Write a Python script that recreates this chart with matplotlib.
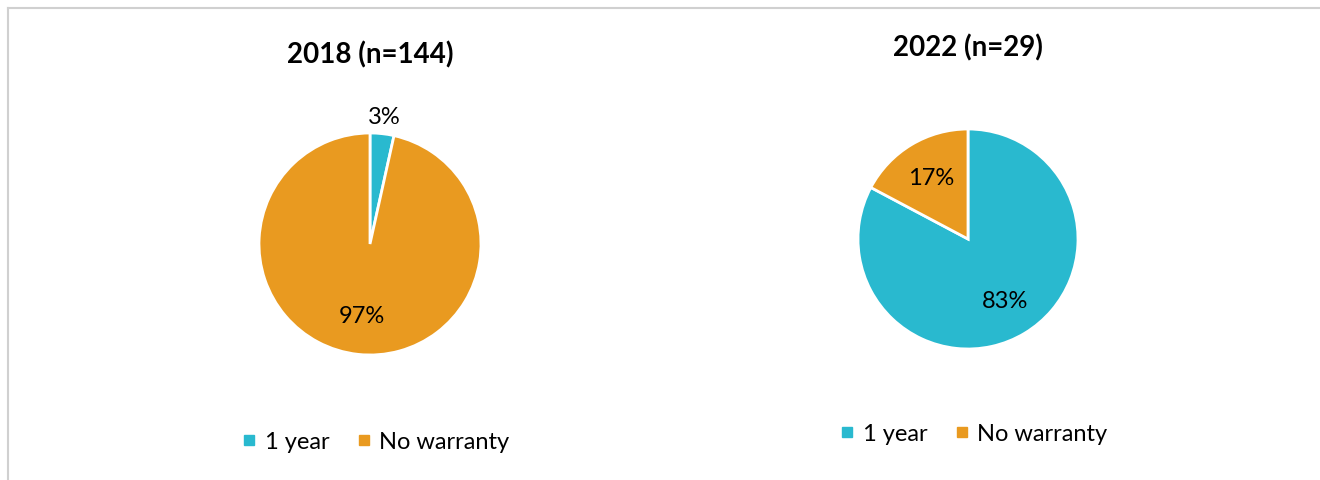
import matplotlib
matplotlib.use('Agg')
import matplotlib.pyplot as plt
from matplotlib.lines import Line2D
import numpy as np

# data
categories = ['1 year', 'No warranty']
counts_2018 = [5, 139]   # n=144 -> 3% / 97%
counts_2022 = [24, 5]    # n=29  -> 83% / 17%
titles = ['2018 (n=144)', '2022 (n=29)']
colors = ['#29B9CF', '#E99A20']

plt.rcParams['font.family'] = ['Lato', 'DejaVu Sans']

W, H = 1320, 481
fig = plt.figure(figsize=(W / 100, H / 100), dpi=100)
fig.patch.set_facecolor('white')

# thin gray frame on left and top
fig.add_artist(Line2D([7.5 / W, 7.5 / W], [0, 1 - 9 / H], color='#d0d0d0', linewidth=1.5))
fig.add_artist(Line2D([7.5 / W, 1], [1 - 9 / H, 1 - 9 / H], color='#d0d0d0', linewidth=1.5))


def draw_pie(cx, cy, r, counts, title, title_y, legend_y, legend_x):
    # cx, cy in pixels from top-left, r = radius in pixels
    size = 300
    ax = fig.add_axes([(cx - size / 2) / W, (H - cy - size / 2) / H, size / W, size / H])
    lim = size / 2 / r
    wedges, texts, autotexts = ax.pie(counts, colors=colors, startangle=90, counterclock=False,
                                      autopct='%.0f%%', pctdistance=0.65,
                                      wedgeprops=dict(edgecolor='white', linewidth=2),
                                      textprops=dict(fontsize=17, color='black'))
    ax.set_xlim(-lim, lim)
    ax.set_ylim(-lim, lim)
    ax.set_aspect('equal')
    # small slices get their label outside
    for w, t, c in zip(wedges, autotexts, counts):
        if c / sum(counts) < 0.1:
            ang = np.deg2rad((w.theta1 + w.theta2) / 2)
            t.set_position((1.16 * np.cos(ang), 1.16 * np.sin(ang)))
    fig.text(cx / W, 1 - title_y / H, title, ha='center', va='center', fontsize=20, fontweight='bold')
    handles = [Line2D([], [], marker='s', linestyle='', markersize=7, color=c) for c in colors]
    fig.legend(handles, categories, loc='center', bbox_to_anchor=(legend_x / W, 1 - legend_y / H),
               ncol=2, frameon=False, fontsize=17, handletextpad=0.3, columnspacing=1.1,
               handlelength=0.7)


draw_pie(370, 245, 111, counts_2018, titles[0], 55, 443, 375)
draw_pie(968, 240, 110, counts_2022, titles[1], 48, 435, 973)

fig.savefig('out.png', dpi=100, facecolor='white')
